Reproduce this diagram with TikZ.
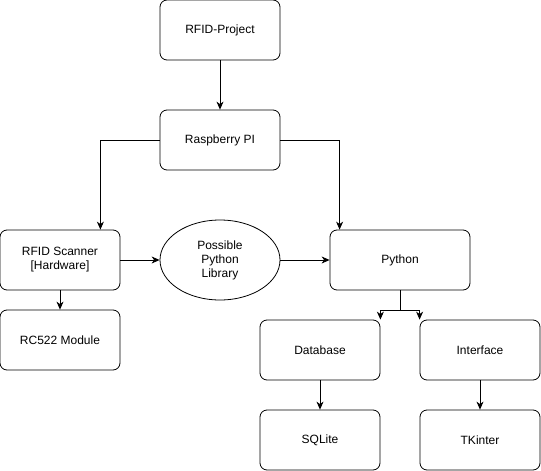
\documentclass[tikz,border=0pt]{standalone}
\usepackage{fontspec}
\setmainfont{Liberation Sans}
\usetikzlibrary{arrows.meta,shapes.geometric}

\tikzset{
  box/.style={draw, rounded corners=7pt, minimum width=120pt, minimum height=60pt, inner sep=0pt, align=center},
  blob/.style={draw, ellipse, minimum width=120pt, minimum height=80pt, inner sep=0pt, align=center},
  link/.style={-{Stealth[length=8pt,width=7pt,inset=2.5pt]}}
}

\begin{document}
\begin{tikzpicture}[x=1pt, y=-1pt, font=\fontsize{12}{14}\selectfont, line width=0.8pt]
\useasboundingbox (0,0) rectangle (541,471);
%\draw[very thin,color=gray] (0,0) grid[step=20] (541,471);

\node[box] (proj) at (220,30) {RFID-Project};
\node[box] (rpi) at (220,140) {Raspberry PI};

\node[box] (scan) at (60,260) {RFID Scanner\\[0pt][Hardware]};
\node[box] (rc) at (60,340) {RC522 Module};
\node[blob] (lib) at (220,260) {Possible\\Python\\Library};
\node[box, minimum width=140pt] (py) at (400,260) {Python};

\node[box] (db) at (320,350) {Database};
\node[box] (ui) at (480,350) {Interface};
\node[box] (sql) at (320,440) {SQLite};
\node[box] (tk) at (480,440) {TKinter};

% top part
\draw[link] (proj) -- (rpi);
\draw[link] (rpi.west) -| ([xshift=-20pt]scan.north east);
\draw[link] (rpi.east) -| ([xshift=10pt]py.north west);

% middle row
\draw[link] (scan) -- (lib);
\draw[link] (lib) -- (py);
\draw[link] (scan) -- (rc);

% python split
\draw (py.south) -- ++(0,20) coordinate (split);
\draw[link] (split) -| (db.north east);
\draw[link] (split) -| (ui.north west);

\draw[link] (db) -- (sql);
\draw[link] (ui) -- (tk);

\end{tikzpicture}
\end{document}
